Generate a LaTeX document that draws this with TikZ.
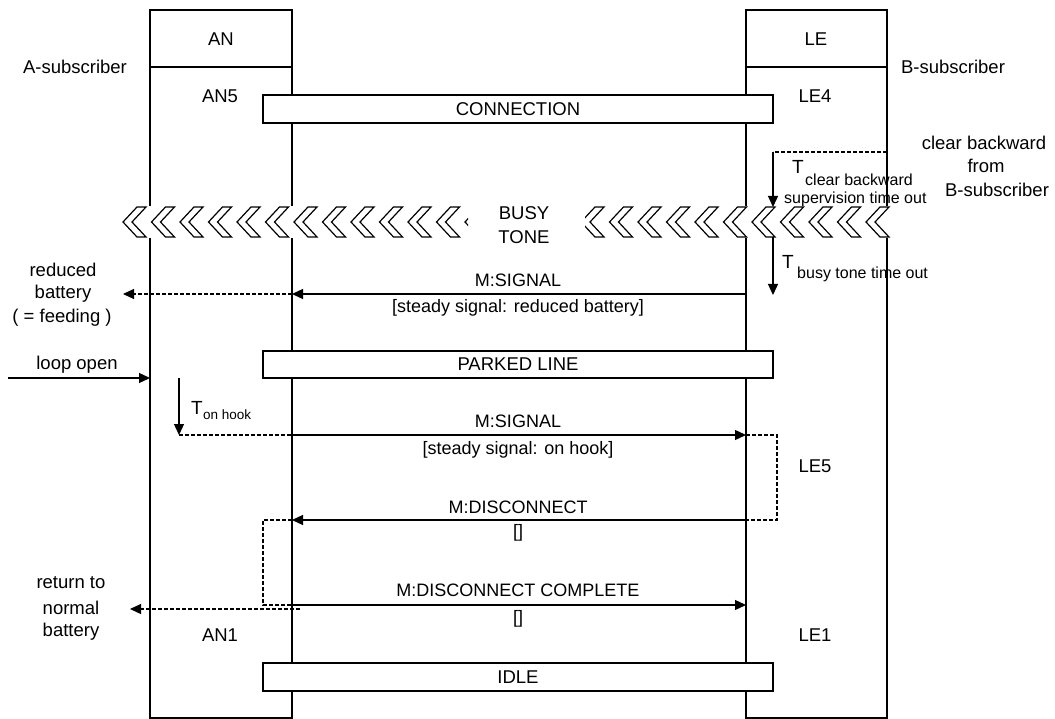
\documentclass[tikz,border=0pt]{standalone}
\usepackage{fontspec}
\setmainfont{Liberation Sans}
\usetikzlibrary{arrows.meta}
\begin{document}
\begin{tikzpicture}[x=1pt,y=-1pt,
  box/.style={draw=black,line width=1.4pt},
  sep/.style={line width=2.2pt},
  bar/.style={draw=black,fill=white,line width=1.4pt,inner sep=0pt,minimum width=510pt,font=\fontsize{18.5}{22}\selectfont},
  lbl/.style={font=\fontsize{18.5}{22}\selectfont,inner sep=0pt},
  mlbl/.style={font=\fontsize{18}{22}\selectfont,inner sep=0pt},
  tee/.style={font=\fontsize{19}{22}\selectfont,inner sep=0pt,anchor=base west},
  sub/.style={font=\fontsize{16}{19}\selectfont,inner sep=0pt,anchor=base west},
  msg/.style={line width=1.3pt,-{Triangle[length=11pt,width=10pt]}},
  dsh/.style={line width=1.2pt,dash pattern=on 4pt off 2pt},
  dsharrow/.style={dsh,-{Triangle[length=11pt,width=10pt]}},
  chev/.style={draw=black,fill=white,line width=1.2pt,line join=miter}]
\useasboundingbox (0,0) rectangle (1055,719);

% lifeline boxes
\draw[box] (150,10) rectangle (292,718);
\draw[box] (746,10) rectangle (887,718);
\draw[sep] (150,67) -- (292,67);
\draw[sep] (746,67) -- (887,67);
\node[lbl] (an) at (221,39) {AN};
\node[lbl] (le) at (816,39) {LE};
\node[lbl] (asub) at (75,67) {A-subscriber};
\node[lbl] (bsub) at (953,67) {B-subscriber};

% state labels
\node[lbl] (an5) at (220,96) {AN5};
\node[lbl] (le4) at (815,96) {LE4};
\node[lbl] (le5) at (815,466) {LE5};
\node[lbl] (an1) at (220,635) {AN1};
\node[lbl] (le1) at (815,635) {LE1};

% bars
\node[bar,minimum height=28pt] (conn) at (518,109) {CONNECTION};
\node[bar,minimum height=27pt] (park) at (518,364.5) {PARKED LINE};
\node[bar,minimum height=28pt] (idle) at (518,677) {IDLE};

% busy tone chevrons
\fill[white] (122,206) rectangle (468,238);
\fill[white] (585,206) rectangle (894,238);
\begin{scope}
  \clip (115,200) rectangle (468,245);
  \foreach \k in {0,...,12} {
    \draw[chev] ({123+28.5*\k},222) -- ++(14,-15) -- ++(9,0) -- ++(-14,15)
      -- ++(14,15) -- ++(-9,0) -- cycle;
  }
\end{scope}
\begin{scope}
  \clip (585,200) rectangle (900,245);
  \foreach \k in {0,...,10} {
    \draw[chev] ({581+28.5*\k},222) -- ++(14,-15) -- ++(9,0) -- ++(-14,15)
      -- ++(14,15) -- ++(-9,0) -- cycle;
  }
\end{scope}
\node[lbl] (busy) at (524,213) {BUSY};
\node[lbl] (tone) at (524,237) {TONE};

% clear backward from B-subscriber
\node[lbl] (cb1) at (984,143) {clear backward};
\node[lbl] (cb2) at (986,166) {from};
\node[lbl] (cb3) at (997,190) {B-subscriber};
\coordinate (cbB) at (887,152);
\coordinate (cbC) at (773,152);
\coordinate (cbT) at (773,207);
\draw[dsh] (cbB) -- (cbC);
\draw[msg] (cbC) -- (cbT);
\node[tee] (tcb) at (792,174) {T};
\node[sub] (tcb1) at (805,186) {clear backward};
\node[sub] (tcb2) at (784,204) {supervision time out};

% busy tone timer
\coordinate (btS) at (773,237);
\coordinate (btE) at (773,295);
\draw[msg] (btS) -- (btE);
\node[tee] (tbt) at (782,269) {T};
\node[sub] (tbt1) at (797,279) {busy tone time out};

% M:SIGNAL reduced battery
\coordinate (s1L) at (746,294);
\coordinate (s1A) at (292,294);
\coordinate (s1X) at (123,294);
\draw[msg] (s1L) -- (s1A);
\draw[dsharrow] (s1A) -- (s1X);
\node[mlbl] (s1t) at (518,280) {M:SIGNAL};
\node[mlbl] (s1p) at (518,308) {[steady signal: reduced battery]};
\node[lbl] (rb1) at (63,270) {reduced};
\node[lbl] (rb2) at (63,294) {battery};
\node[lbl] (rb3) at (62,318) {( = feeding )};

% loop open
\coordinate (loS) at (8,378);
\coordinate (loE) at (150,378);
\draw[msg] (loS) -- (loE);
\node[lbl] (lo) at (77,365) {loop open};

% T on hook
\coordinate (ohS) at (179,378);
\coordinate (ohE) at (179,435);
\draw[msg] (ohS) -- (ohE);
\node[tee] (toh) at (191,414) {T};
\node[font=\fontsize{13.5}{15}\selectfont,inner sep=0pt,anchor=base west] (toh1) at (203,419) {on hook};

% M:SIGNAL on hook
\coordinate (s2A) at (292,435);
\coordinate (s2L) at (746,435);
\draw[dsh] (ohE) -- (s2A);
\draw[msg] (s2A) -- (s2L);
\node[mlbl] (s2t) at (518,421) {M:SIGNAL};
\node[mlbl] (s2p) at (518,450) {[steady signal: on hook]};

% LE5 dashed loop
\coordinate (d1a) at (777,435);
\coordinate (d1b) at (777,520);
\coordinate (d1c) at (746,520);
\draw[dsh] (s2L) -- (d1a) -- (d1b) -- (d1c);

% M:DISCONNECT
\coordinate (dcA) at (292,520);
\draw[msg] (d1c) -- (dcA);
\node[mlbl] (dct) at (518,507) {M:DISCONNECT};
\node[mlbl] (dcp) at (518,533) {[]};

% AN dashed loop
\coordinate (d2a) at (263,520);
\coordinate (d2b) at (263,605);
\coordinate (d2c) at (292,605);
\draw[dsh] (dcA) -- (d2a) -- (d2b) -- (d2c);

% M:DISCONNECT COMPLETE
\coordinate (dccL) at (746,605);
\draw[msg] (d2c) -- (dccL);
\node[mlbl] (dcct) at (518,590) {M:DISCONNECT COMPLETE};
\node[mlbl] (dccp) at (518,619) {[]};

% return to normal battery
\coordinate (rnS) at (300,609);
\coordinate (rnE) at (130,609);
\draw[dsharrow] (rnS) -- (rnE);
\node[lbl] (rn1) at (71,583) {return to};
\node[lbl] (rn2) at (71,608) {normal};
\node[lbl] (rn3) at (71,632) {battery};
\end{tikzpicture}
\end{document}
